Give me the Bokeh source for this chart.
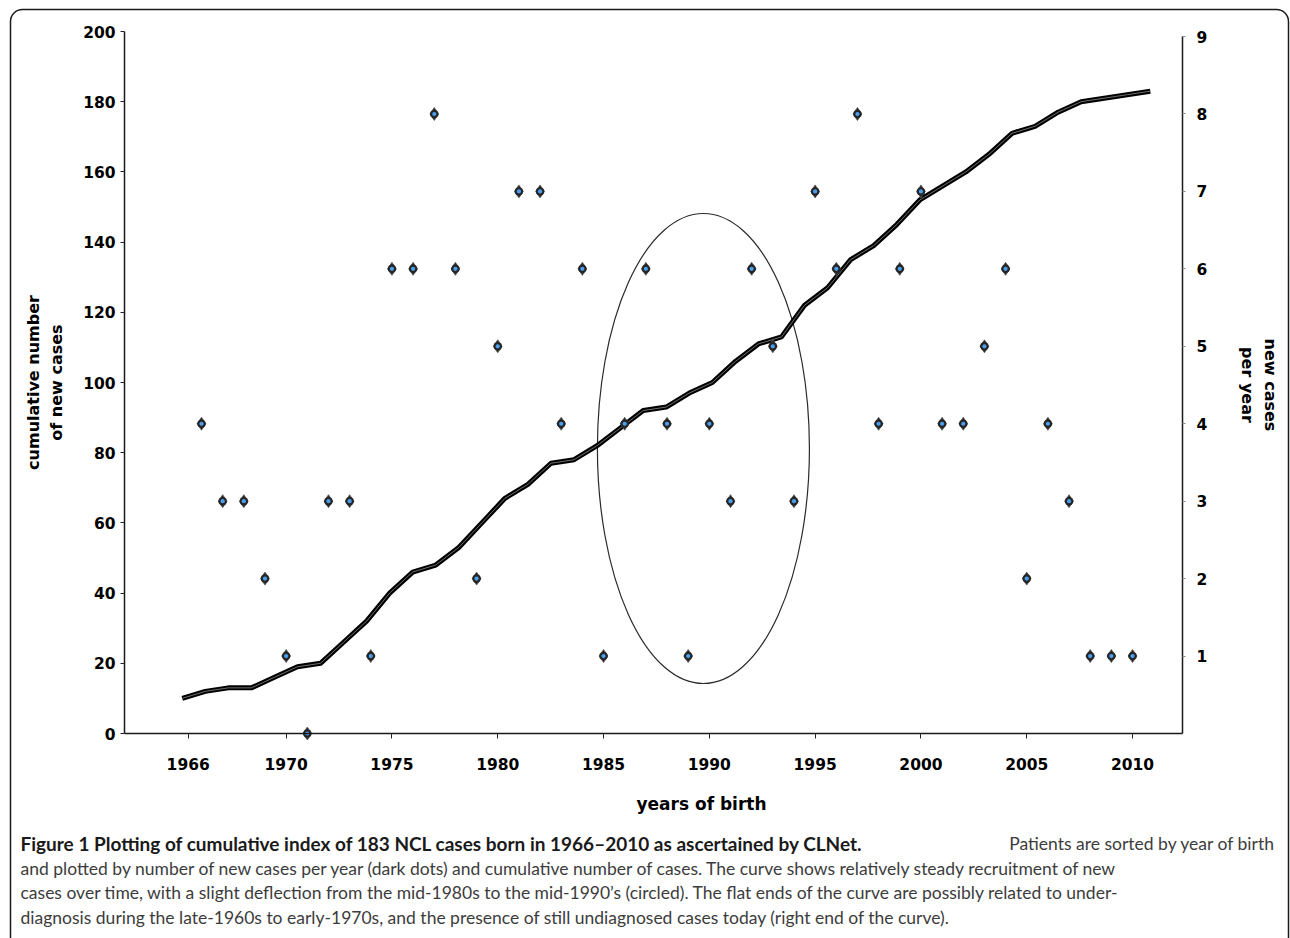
from bokeh.plotting import figure
from bokeh.models import Range1d, LinearAxis, FixedTicker, Label, BoxAnnotation
from bokeh.embed import file_html
from bokeh.resources import INLINE

# ---------------- data ----------------
years = [1966, 1967, 1968, 1969, 1970, 1971, 1972, 1973, 1974, 1975,
         1976, 1977, 1978, 1979, 1980, 1981, 1982, 1983, 1984, 1985,
         1986, 1987, 1988, 1989, 1990, 1991, 1992, 1993, 1994, 1995,
         1996, 1997, 1998, 1999, 2000, 2001, 2002, 2003, 2004, 2005,
         2006, 2007, 2008, 2009, 2010]
new_cases = [4, 3, 3, 2, 1, 0, 3, 3, 1, 6,
             6, 8, 6, 2, 5, 7, 7, 4, 6, 1,
             4, 6, 4, 1, 4, 3, 6, 5, 3, 7,
             6, 8, 4, 6, 7, 4, 4, 5, 6, 2,
             4, 3, 1, 1, 1]

curve_points = [1, 2, 3, 4, 5, 6, 7, 8, 9, 10,
                11, 12, 13, 14, 15, 16, 17, 18, 19, 20,
                21, 22, 23, 24, 25, 26, 27, 28, 29, 30,
                31, 32, 33, 34, 35, 36, 37, 38, 39, 40,
                41, 42, 43]
cumulative = [10, 12, 13, 13, 16, 19, 20, 26, 32, 40,
              46, 48, 53, 60, 67, 71, 77, 78, 82, 87,
              92, 93, 97, 100, 106, 111, 113, 122, 127, 135,
              139, 145, 152, 156, 160, 165, 171, 173, 177, 180,
              181, 182, 183]

left_ticks = [0, 20, 40, 60, 80, 100, 120, 140, 160, 180, 200]
right_ticks = [1, 2, 3, 4, 5, 6, 7, 8, 9]
x_tick_labels = ["1966", "1970", "1975", "1980", "1985", "1990",
                 "1995", "2000", "2005", "2010"]
x_tick_years = [1966, 1970, 1975, 1980, 1985, 1990, 1995, 2000, 2005, 2010]

# circled region (years of birth, cumulative cases)
circle_year, circle_cum = 1989.72, 81.2
circle_span_years, circle_span_cum = 10.02, 133.9

x_title = "years of birth"
left_title = "cumulative number\nof new cases"
right_title = "new cases\nper year"
caption_bold = "Figure 1 Plotting of cumulative index of 183 NCL cases born in 1966\u20132010 as ascertained by CLNet."
caption_lines = [
    "Patients are sorted by year of birth",
    "and plotted by number of new cases per year (dark dots) and cumulative number of cases. The curve shows relatively steady recruitment of new",
    "cases over time, with a slight deflection from the mid-1980s to the mid-1990\u2019s (circled). The flat ends of the curve are possibly related to under-",
    "diagnosis during the late-1960s to early-1970s, and the presence of still undiagnosed cases today (right end of the curve).",
]

# ---------------- layout (pixel geometry of the page) ----------------
W, H = 1290, 938
PX_L, PX_R = 124, 1182          # plot area left/right (px)
PY_T, PY_B = 31, 733            # plot area top/bottom (px)
YR_FIRST_PX, YR_PX = 201, 21.16  # x of first year, px per year
CUM_PX = (PY_B - PY_T) / 200.0   # px per cumulative case
NEW_PX = 77.44                   # px per new case (right axis)
CUR_FIRST_PX, CUR_PX = 181.7, 23.05


def X(px):
    return years[0] + (px - YR_FIRST_PX) / YR_PX


def Y(py):
    return (PY_B - py) / CUM_PX


def YC(py):
    return (PY_B - py) / NEW_PX


def XC(px):
    return curve_points[0] + (px - CUR_FIRST_PX) / CUR_PX


p = figure(width=W, height=H, output_backend="svg", toolbar_location=None,
           x_range=Range1d(X(0), X(W)), y_range=Range1d(Y(H), Y(0)),
           min_border_left=0, min_border_right=0,
           min_border_top=0, min_border_bottom=0)
p.extra_y_ranges = {"cases": Range1d(YC(H), YC(0))}
p.extra_x_ranges = {"curve": Range1d(XC(0), XC(W))}
p.xgrid.visible = False
p.ygrid.visible = False
p.outline_line_color = None
p.background_fill_color = "white"
p.border_fill_color = "white"

TF = "DejaVu Sans"


def style_axis(a, tick_out, tick_color, standoff):
    a.axis_line_width = 1.5
    a.axis_line_color = "#1a1a1a"
    a.major_tick_out = tick_out
    a.major_tick_in = 0
    a.minor_tick_out = 0
    a.minor_tick_in = 0
    a.major_tick_line_color = tick_color
    a.major_label_standoff = standoff
    a.major_label_text_font = TF
    a.major_label_text_font_style = "bold"
    a.major_label_text_font_size = "15.5px"
    a.major_label_text_color = "black"
    a.axis_label_text_font = TF
    a.axis_label_text_font_style = "bold"
    a.axis_label_text_font_size = "16px"
    a.axis_label_text_color = "black"


# left axis
ay = p.yaxis[0]
ay.ticker = FixedTicker(ticks=left_ticks)
ay.fixed_location = X(PX_L)
ay.bounds = (0, 200)
style_axis(ay, 4, "#222222", 5)
ay.axis_label = left_title
ay.axis_label_standoff = 14

# bottom axis
ax = p.xaxis[0]
tick_pos = [t - 0.63 if t == 1966 else t for t in x_tick_years]
ax.ticker = FixedTicker(ticks=tick_pos)
ax.major_label_overrides = {t: lab for t, lab in zip(tick_pos, x_tick_labels)}
ax.fixed_location = 0
ax.bounds = (X(PX_L), X(PX_R))
style_axis(ax, 5, "#222222", 19)

# right axis
ar = LinearAxis(y_range_name="cases", ticker=FixedTicker(ticks=right_ticks),
                bounds=(0, 9), fixed_location=X(PX_R))
style_axis(ar, 3, "#888888", 11)
ar.axis_label = right_title
ar.axis_label_standoff = 28
p.add_layout(ar, "right")

# circled region
p.ellipse(x=[circle_year], y=[circle_cum], width=[circle_span_years],
          height=[circle_span_cum], fill_color=None, line_color="#2a2a2a",
          line_width=1.2)

# cumulative curve (double line)
p.line(curve_points, cumulative, x_range_name="curve", line_color="black",
       line_width=5, line_join="round")
p.line(curve_points, cumulative, x_range_name="curve", line_color="#7a7a7a",
       line_width=0.9, line_join="round")

# new cases per year
p.scatter(years, new_cases, y_range_name="cases", marker="diamond", size=13,
          fill_color="#262626", line_color="#5a5a5a", line_width=0.8)
p.scatter(years, new_cases, y_range_name="cases", marker="circle", size=8.5,
          fill_color="#262626", line_color=None)
p.scatter(years, new_cases, y_range_name="cases", marker="circle", size=4.2,
          fill_color="#4a9ff0", line_color=None)

# x title
p.add_layout(Label(x=X(701), y=Y(803), text=x_title, text_align="center",
                   text_baseline="middle", text_font=TF,
                   text_font_style="bold", text_font_size="17px",
                   text_color="black"))

# caption
CF = "Lato"
p.add_layout(Label(x=X(20), y=Y(843), text=caption_bold, text_align="left",
                   text_baseline="middle", text_font=CF,
                   text_font_style="bold", text_font_size="19px",
                   text_color="#1a1a1a"))
p.add_layout(Label(x=X(1275), y=Y(843), text=caption_lines[0],
                   text_align="right", text_baseline="middle", text_font=CF,
                   text_font_size="17.5px", text_color="#3c3c3c"))
for i, ln in enumerate(caption_lines[1:]):
    p.add_layout(Label(x=X(20), y=Y(868 + 24.3 * i), text=ln,
                       text_align="left", text_baseline="middle",
                       text_font=CF, text_font_size="17.5px",
                       text_color="#3c3c3c"))

# rounded frame
p.add_layout(BoxAnnotation(left=X(10), right=X(1288), top=Y(9),
                           bottom=Y(1000), fill_color=None, fill_alpha=0,
                           line_color="#1a1a1a", line_alpha=1.0,
                           line_width=1.5, border_radius=12))

open("out.html", "w").write(file_html(p, INLINE))
